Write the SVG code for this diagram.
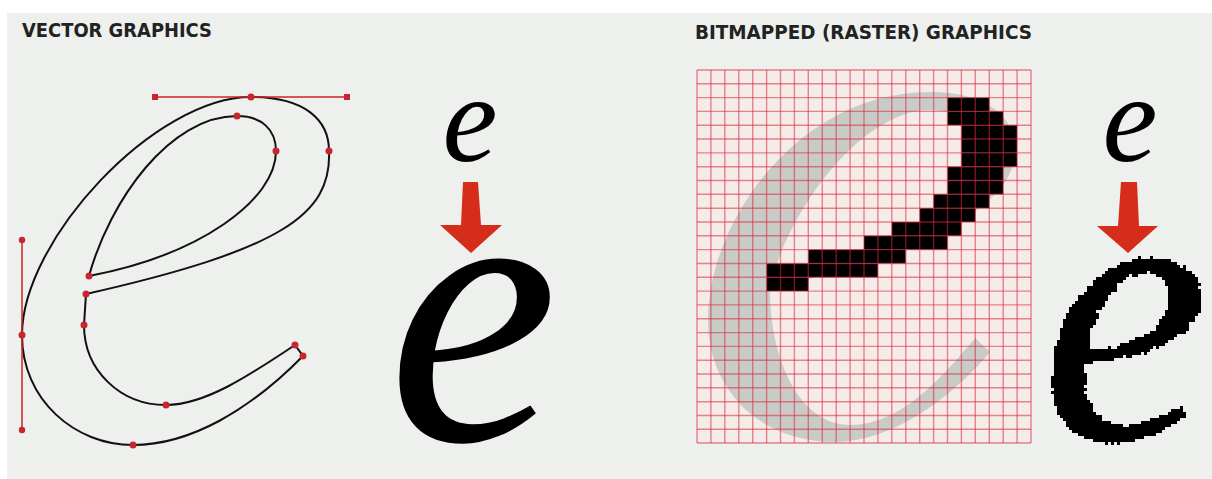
<svg xmlns="http://www.w3.org/2000/svg" width="1212" height="479" viewBox="0 0 1212 479">
<style>
.title{font-family:"DejaVu Sans Condensed","Liberation Sans",sans-serif;font-weight:bold;font-size:19px;fill:#222;}
.glyph{font-family:"Liberation Serif",serif;font-style:italic;fill:#000;}
.outline{fill:none;stroke:#111;stroke-width:2;}
.handle{stroke:#c8262c;stroke-width:1.5;fill:none;}
.pt{fill:#c8262c;}
.arrow{fill:#d62c1a;}
.gridline{stroke:#d9283c;stroke-opacity:0.55;stroke-width:1.4;}
.px{fill:#000;}
</style>
<defs>
<filter id="pixelate" filterUnits="userSpaceOnUse" primitiveUnits="userSpaceOnUse" x="1030" y="250" width="182" height="210">
<feTurbulence type="fractalNoise" baseFrequency="0.18" numOctaves="2" seed="3" result="noise"/>
<feDisplacementMap in="SourceGraphic" in2="noise" scale="8" xChannelSelector="R" yChannelSelector="G" result="rough"/>
<feFlood x="1031" y="251" width="1" height="1" flood-color="#000" result="dot"/>
<feComposite in="dot" in2="dot" operator="over" x="1030" y="250" width="3" height="3" result="cell"/>
<feTile in="cell" result="dots"/>
<feComposite in="rough" in2="dots" operator="in" result="samp"/>
<feComponentTransfer in="samp" result="thr">
<feFuncA type="discrete" tableValues="0 1"/>
</feComponentTransfer>
<feMorphology in="thr" operator="dilate" radius="1"/>
</filter>
</defs>
<rect x="0" y="0" width="1212" height="479" fill="#ffffff"/>
<rect x="7" y="13" width="1205" height="466" fill="#edf0ec"/>

<g id="title-vector"><text class="title" x="22" y="37" textLength="190" lengthAdjust="spacingAndGlyphs">VECTOR GRAPHICS</text></g>
<g id="title-raster"><text class="title" x="695" y="38.5" textLength="337" lengthAdjust="spacingAndGlyphs">BITMAPPED (RASTER) GRAPHICS</text></g>

<g id="vector-e">
<path class="outline" d="M251,97 C305,97 329,120 329,151 C332,215 280,250 86,294 L84,325 C84,370 120,405 166,405 C205,405 250,375 295,345 L303,356 C250,410 190,445 133,445 C75,445 22,400 22,335 C22,240 155,97 251,97 Z"/>
<path class="outline" d="M89,276 C110,200 170,116 237,116 C262,116 276,130 276,151 C276,200 200,255 89,276 Z"/>
<line class="handle" x1="155" y1="97" x2="347" y2="97"/>
<line class="handle" x1="22" y1="240" x2="22" y2="430"/>
<rect class="pt" x="152" y="94" width="6" height="6"/>
<rect class="pt" x="344" y="94" width="6" height="6"/>
<circle class="pt" cx="251" cy="97" r="3.5"/>
<circle class="pt" cx="237" cy="116" r="3.5"/>
<circle class="pt" cx="276" cy="151" r="3.5"/>
<circle class="pt" cx="329" cy="151" r="3.5"/>
<circle class="pt" cx="22" cy="240" r="3.2"/>
<circle class="pt" cx="22" cy="335" r="3.5"/>
<circle class="pt" cx="22" cy="430" r="3.2"/>
<circle class="pt" cx="89" cy="276" r="3.5"/>
<circle class="pt" cx="86" cy="294" r="3.5"/>
<circle class="pt" cx="84" cy="325" r="3.5"/>
<circle class="pt" cx="295" cy="345" r="3.5"/>
<circle class="pt" cx="303" cy="356" r="3.5"/>
<circle class="pt" cx="166" cy="405" r="3.5"/>
<circle class="pt" cx="133" cy="445" r="3.5"/>
</g>

<g id="vector-result">
<text class="glyph" x="470" y="161" font-size="124" text-anchor="middle">e</text>
<polygon class="arrow" points="463,182 478,182 481,225 502,225 471,253 440,225 461,225"/>
<text class="glyph" x="473" y="440" font-size="385" text-anchor="middle">e</text>
</g>

<g id="raster-grid">
<rect x="697" y="70" width="334" height="373" fill="#f5ece9"/>
<path fill="#c9cbc7" fill-rule="evenodd" d="M990,352 C950,400 890,442 835,442 C760,442 708,390 708,320 C708,220 800,92 930,92 C985,92 1015,115 1015,150 C1015,215 900,255 770,290 C770,360 800,425 850,425 C900,425 940,380 975,338 Z M773,275 C800,190 870,110 930,110 C960,110 975,125 975,150 C975,210 870,255 773,275 Z"/>
<g id="pixels">
<rect class="px" x="947.5" y="97.6" width="41.8" height="13.8"/>
<rect class="px" x="947.5" y="111.4" width="55.7" height="13.8"/>
<rect class="px" x="961.4" y="125.2" width="55.7" height="13.8"/>
<rect class="px" x="961.4" y="139.0" width="55.7" height="13.8"/>
<rect class="px" x="961.4" y="152.9" width="55.7" height="13.8"/>
<rect class="px" x="947.5" y="166.7" width="55.7" height="13.8"/>
<rect class="px" x="947.5" y="180.5" width="55.7" height="13.8"/>
<rect class="px" x="933.6" y="194.3" width="55.7" height="13.8"/>
<rect class="px" x="919.7" y="208.2" width="55.7" height="13.8"/>
<rect class="px" x="891.8" y="222.0" width="69.6" height="13.8"/>
<rect class="px" x="864.0" y="235.8" width="83.5" height="13.8"/>
<rect class="px" x="808.3" y="249.6" width="97.4" height="13.8"/>
<rect class="px" x="766.6" y="263.5" width="111.3" height="13.8"/>
<rect class="px" x="766.6" y="277.3" width="41.8" height="13.8"/>
</g>
<g id="gridlines" class="gridline">
<path d="M697,70V443M710.9,70V443M724.8,70V443M738.8,70V443M752.7,70V443M766.6,70V443M780.5,70V443M794.4,70V443M808.3,70V443M822.3,70V443M836.2,70V443M850.1,70V443M864,70V443M877.9,70V443M891.8,70V443M905.8,70V443M919.7,70V443M933.6,70V443M947.5,70V443M961.4,70V443M975.3,70V443M989.3,70V443M1003.2,70V443M1017.1,70V443M1031,70V443"/>
<path d="M697,70H1031M697,83.8H1031M697,97.6H1031M697,111.4H1031M697,125.2H1031M697,139H1031M697,152.9H1031M697,166.7H1031M697,180.5H1031M697,194.3H1031M697,208.2H1031M697,222H1031M697,235.8H1031M697,249.6H1031M697,263.5H1031M697,277.3H1031M697,291.1H1031M697,304.9H1031M697,318.7H1031M697,332.6H1031M697,346.4H1031M697,360.2H1031M697,374H1031M697,387.8H1031M697,401.7H1031M697,415.5H1031M697,429.3H1031M697,443H1031"/>
</g>
</g>

<g id="raster-result">
<text class="glyph" x="1130" y="161" font-size="124" text-anchor="middle">e</text>
<polygon class="arrow" points="1121,182 1137,182 1139,226 1158,226 1128,253 1097,226 1118,226"/>
<text class="glyph" x="1125" y="440" font-size="385" text-anchor="middle" filter="url(#pixelate)">e</text>
</g>
</svg>
